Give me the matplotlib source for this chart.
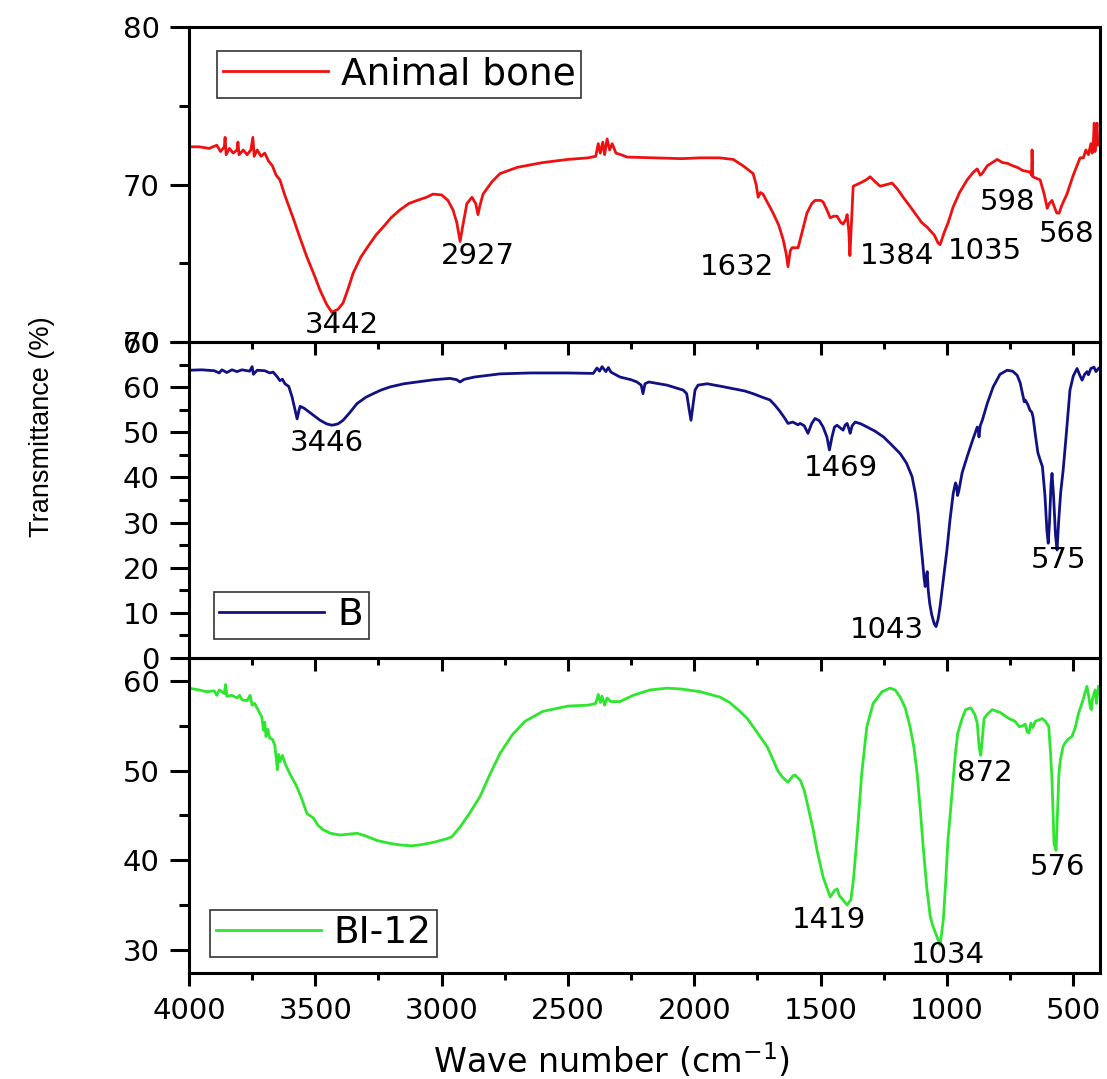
import matplotlib
matplotlib.use("Agg")
import matplotlib.pyplot as plt
import numpy as np
from matplotlib.ticker import MultipleLocator

plt.rcParams.update({
    "font.family": "DejaVu Sans",
    "font.size": 20,
    "axes.linewidth": 2.2,
})

# -------------------------------
# DATA
# -------------------------------
bone_wn = [4000, 3960, 3920, 3890, 3875, 3860, 3857, 3853, 3840, 3825, 3810, 3806, 3802, 3785,
           3770, 3755, 3747, 3742, 3730, 3715, 3700, 3685, 3670, 3655, 3640, 3620, 3588, 3560,
           3533, 3505, 3481, 3455, 3434, 3410, 3390, 3370, 3350, 3320, 3295, 3260, 3232, 3200,
           3165, 3130, 3097, 3060, 3034, 3000, 2975, 2955, 2940, 2927, 2915, 2900, 2880, 2865,
           2856, 2848, 2836, 2800, 2769, 2700, 2600, 2500, 2420, 2390, 2380, 2372, 2362, 2355,
           2345, 2335, 2325, 2310, 2290, 2266, 2150, 2050, 1977, 1900, 1846, 1807, 1767, 1755,
           1747, 1738, 1728, 1708, 1688, 1665, 1648, 1636, 1629, 1620, 1613, 1589, 1570, 1554,
           1535, 1522, 1500, 1490, 1475, 1462, 1448, 1435, 1420, 1411, 1400, 1395, 1388, 1384,
           1378, 1371, 1344, 1320, 1304, 1285, 1264, 1240, 1217, 1195, 1173, 1145, 1118, 1100,
           1078, 1050, 1035, 1027, 1010, 995, 975, 950, 920, 895, 880, 868, 861, 840, 801, 780,
           760, 740, 722, 700, 671, 665, 663, 660, 645, 631, 615, 603, 595, 584, 575, 565, 556,
           545, 525, 500, 473, 460, 450, 440, 430, 425, 420, 417, 414, 410, 406, 403, 400]
bone_t = [72.4, 72.4, 72.3, 72.5, 72.1, 72.4, 73.0, 71.9, 72.3, 72.0, 72.2, 72.7, 71.9, 72.2,
          71.9, 72.2, 73.0, 71.8, 72.2, 71.8, 72.0, 71.5, 71.2, 70.6, 70.3, 69.3, 67.9, 66.6,
          65.4, 64.3, 63.3, 62.4, 61.9, 62.1, 62.5, 63.4, 64.4, 65.4, 66.0, 66.8, 67.3, 67.9,
          68.4, 68.8, 69.0, 69.2, 69.4, 69.35, 69.0, 68.4, 67.6, 66.4, 67.5, 68.8, 69.2, 68.8,
          68.1, 68.7, 69.4, 70.2, 70.7, 71.1, 71.4, 71.6, 71.7, 71.8, 72.6, 72.0, 72.7, 71.9,
          72.9, 72.2, 72.6, 72.0, 71.9, 71.75, 71.7, 71.65, 71.7, 71.7, 71.6, 71.2, 70.7, 70.0,
          69.2, 69.5, 69.4, 68.8, 68.2, 67.4, 66.5, 65.6, 64.8, 65.8, 66.0, 66.0, 67.2, 68.2,
          68.8, 69.0, 69.0, 68.9, 68.4, 67.9, 68.0, 68.0, 67.6, 67.5, 67.8, 68.1, 67.0, 65.5,
          67.5, 69.9, 70.1, 70.3, 70.5, 70.2, 69.9, 70.0, 70.1, 69.7, 69.2, 68.6, 68.0, 67.6,
          67.3, 66.8, 66.3, 66.2, 67.0, 67.6, 68.6, 69.5, 70.3, 70.8, 71.0, 70.6, 70.7, 71.2,
          71.6, 71.4, 71.35, 71.2, 71.1, 70.9, 70.8, 70.6, 72.2, 70.5, 70.4, 70.3, 69.4, 68.5,
          68.8, 69.0, 68.6, 68.2, 68.2, 68.7, 69.4, 70.6, 71.7, 71.7, 72.2, 71.9, 72.6, 72.0,
          72.8, 73.9, 72.1, 72.8, 73.9, 72.5, 72.6]

b_wn = [4000, 3950, 3900, 3880, 3870, 3850, 3830, 3810, 3790, 3760, 3750, 3745, 3730, 3700,
        3680, 3667, 3650, 3640, 3630, 3620, 3605, 3592, 3580, 3572, 3565, 3560, 3545, 3533,
        3505, 3481, 3455, 3434, 3410, 3390, 3365, 3335, 3300, 3271, 3240, 3204, 3150, 3097,
        3030, 2967, 2940, 2927, 2910, 2870, 2800, 2769, 2650, 2500, 2400, 2385, 2375, 2365,
        2350, 2340, 2330, 2294, 2250, 2227, 2210, 2203, 2195, 2180, 2108, 2044, 2030, 2020,
        2013, 2005, 1997, 1985, 1949, 1900, 1846, 1800, 1767, 1730, 1700, 1680, 1660, 1640,
        1629, 1610, 1590, 1581, 1565, 1550, 1535, 1522, 1505, 1490, 1475, 1465, 1455, 1445,
        1435, 1422, 1411, 1403, 1395, 1388, 1383, 1375, 1363, 1340, 1316, 1285, 1251, 1220,
        1185, 1160, 1138, 1125, 1114, 1106, 1098, 1090, 1086, 1082, 1078, 1074, 1068, 1060,
        1050, 1043, 1035, 1027, 1015, 1000, 988, 975, 966, 962, 958, 953, 940, 920, 900, 880,
        876, 873, 868, 860, 840, 817, 790, 762, 740, 722, 710, 698, 694, 690, 680, 671, 664,
        659, 650, 640, 631, 622, 612, 604, 599, 594, 588, 584, 578, 570, 564, 558, 550, 540,
        530, 513, 500, 485, 475, 465, 455, 445, 440, 430, 418, 410, 400]
b_t = [63.8, 63.9, 63.7, 63.2, 63.9, 63.3, 63.9, 63.5, 63.9, 63.6, 64.6, 62.9, 63.8, 63.7,
       63.2, 63.4, 62.3, 61.5, 61.8, 60.8, 60.2, 57.9, 55.0, 53.0, 54.8, 55.8, 55.4, 54.9,
       53.7, 52.7, 51.9, 51.6, 51.9, 52.7, 54.3, 56.4, 57.8, 58.6, 59.4, 60.1, 60.8, 61.2,
       61.7, 62.0, 61.7, 61.2, 61.8, 62.3, 62.8, 63.0, 63.2, 63.2, 63.1, 64.3, 63.6, 64.6,
       63.5, 64.4, 63.4, 62.3, 61.7, 61.2, 60.5, 58.6, 60.8, 61.2, 60.5, 59.4, 58.6, 55.0,
       52.7, 56.0, 59.4, 60.5, 60.8, 60.3, 59.7, 59.2, 58.6, 57.8, 57.2, 56.0, 54.6, 53.0,
       52.0, 52.3, 51.7, 52.0, 51.5, 49.8, 52.0, 53.1, 52.6, 51.2, 49.0, 46.1, 49.0, 51.2,
       51.6, 51.0, 50.5, 51.6, 52.0, 50.8, 49.8, 51.5, 52.3, 51.9, 51.2, 50.3, 49.0, 47.3,
       45.3, 43.2, 40.2, 36.5, 32.0, 27.0, 22.4, 17.5, 15.8, 17.8, 19.1, 15.0, 12.0, 9.5,
       7.5, 6.9, 8.5, 11.4, 17.0, 23.9, 30.5, 36.5, 38.8, 38.2, 36.0, 37.0, 41.0, 44.6, 48.0,
       51.2, 50.5, 49.0, 51.5, 52.7, 56.5, 60.1, 62.9, 63.8, 63.6, 62.7, 61.0, 57.9, 56.8,
       57.2, 56.2, 54.9, 54.5, 53.4, 49.5, 45.5, 43.9, 42.4, 36.0, 28.0, 25.4, 30.0, 38.5,
       40.9, 36.0, 27.0, 23.9, 30.0, 36.5, 41.6, 48.0, 59.4, 62.5, 64.2, 62.8, 61.6, 62.9,
       63.5, 62.8, 64.2, 64.5, 63.5, 64.2]

bi_wn = [4000, 3960, 3930, 3900, 3890, 3880, 3860, 3855, 3850, 3830, 3810, 3800, 3790, 3770,
         3758, 3750, 3740, 3725, 3712, 3705, 3700, 3695, 3688, 3680, 3670, 3660, 3650, 3645,
         3640, 3630, 3620, 3600, 3573, 3553, 3533, 3507, 3490, 3469, 3440, 3402, 3370, 3335,
         3300, 3256, 3210, 3165, 3120, 3086, 3030, 2979, 2960, 2927, 2890, 2848, 2810, 2769,
         2720, 2670, 2600, 2500, 2420, 2390, 2380, 2372, 2365, 2355, 2345, 2330, 2294, 2242,
         2175, 2108, 2050, 1977, 1898, 1860, 1819, 1790, 1767, 1740, 1712, 1688, 1670, 1652,
         1629, 1610, 1601, 1580, 1565, 1550, 1530, 1514, 1490, 1462, 1445, 1435, 1425, 1415,
         1395, 1380, 1370, 1357, 1337, 1317, 1292, 1257, 1225, 1205, 1185, 1165, 1146, 1130,
         1118, 1105, 1094, 1080, 1066, 1055, 1040, 1027, 1014, 1005, 996, 986, 976, 966, 957,
         940, 926, 906, 890, 880, 872, 866, 860, 853, 840, 821, 790, 754, 730, 714, 700, 690,
         682, 675, 668, 660, 650, 623, 610, 597, 590, 584, 576, 568, 562, 557, 551, 540, 532,
         520, 505, 492, 479, 460, 446, 440, 432, 428, 424, 420, 413, 408, 400]
bi_t = [59.2, 59.0, 58.8, 58.9, 58.4, 59.0, 58.6, 59.6, 58.3, 58.4, 58.1, 58.4, 57.9, 57.8,
        58.4, 57.3, 57.5, 56.7, 56.0, 54.5, 55.4, 53.8, 54.6, 53.6, 53.5, 52.8, 50.1, 51.8,
        51.0, 51.7, 50.8, 49.6, 48.2, 46.8, 45.2, 44.7, 43.9, 43.4, 43.0, 42.8, 42.9, 43.0,
        42.7, 42.2, 41.9, 41.7, 41.6, 41.7, 42.0, 42.4, 42.6, 43.7, 45.2, 47.1, 49.5, 51.9,
        54.0, 55.5, 56.6, 57.2, 57.3, 57.5, 58.5, 57.6, 58.3, 57.3, 58.1, 57.7, 57.7, 58.4,
        59.0, 59.2, 59.1, 58.8, 58.2, 57.6, 56.6, 55.8, 54.9, 53.8, 52.7, 51.2, 50.0, 49.3,
        48.7, 49.4, 49.5, 48.9, 47.8, 46.0, 43.5, 41.1, 38.1, 35.9, 36.6, 36.8, 36.0, 35.7,
        35.0, 35.6, 37.8, 42.2, 49.7, 54.9, 57.5, 58.8, 59.2, 59.0, 58.2, 57.0, 54.9, 52.5,
        49.7, 45.5, 41.5, 37.0, 33.7, 32.6, 31.5, 30.5, 33.4, 37.5, 42.2, 45.5, 48.9, 52.0,
        54.2, 55.8, 56.8, 57.0, 56.3, 55.3, 52.5, 51.7, 53.5, 55.8, 56.3, 56.8, 56.5, 55.8,
        55.5, 54.9, 55.0, 55.2, 54.3, 54.2, 55.3, 54.8, 55.5, 55.8, 55.5, 54.9, 52.0, 48.9,
        41.8, 41.1, 45.5, 49.5, 51.2, 52.7, 53.1, 53.5, 53.8, 54.8, 56.4, 58.0, 59.4, 58.5,
        57.0, 56.8, 58.0, 58.4, 59.0, 57.5, 59.4]

# peak labels: text, x, y
bone_labels = [("3442", 3394, 61.1), ("2927", 2856, 65.5), ("1632", 1830, 64.8),
               ("1384", 1197, 65.5), ("1035", 849, 65.8), ("598", 758, 68.9), ("568", 525, 66.9)]
b_labels = [("3446", 3454, 47.6), ("1469", 1420, 42.1), ("1043", 1237, 6.2), ("575", 560, 21.7)]
bi_labels = [("1419", 1468, 33.3), ("1034", 996, 29.4), ("872", 849, 49.7), ("576", 564, 39.2)]

# -------------------------------
# FIGURE
# -------------------------------
fig, axes = plt.subplots(3, 1, sharex=True, figsize=(11.07, 10.79), dpi=100,
                         gridspec_kw={"hspace": 0})
fig.subplots_adjust(left=0.1707, right=0.9937, top=0.975, bottom=0.0982)

panels = [
    (bone_wn, bone_t, "#ee1111", "Animal bone", bone_labels, (60, 80),
     "upper left", (0.031, 0.924)),
    (b_wn, b_t, "#111184", "B", b_labels, (0, 70),
     "lower left", (0.027, 0.060)),
    (bi_wn, bi_t, "#2ee62e", "BI-12", bi_labels, (27.4, 62.6),
     "lower left", (0.023, 0.051)),
]

for ax, (wn, t, col, name, labels, ylim, loc, anchor) in zip(axes, panels):
    ax.set_facecolor("none")
    ax.plot(wn, t, color=col, lw=2.0, label=name)
    ax.set_ylim(*ylim)
    ax.yaxis.set_major_locator(MultipleLocator(10))
    ax.yaxis.set_minor_locator(MultipleLocator(5))
    ax.xaxis.set_major_locator(MultipleLocator(500))
    ax.xaxis.set_minor_locator(MultipleLocator(250))
    ax.tick_params(axis="y", which="major", direction="out", length=14, width=2.2,
                   labelsize=21, pad=7)
    ax.tick_params(axis="y", which="minor", direction="out", length=7, width=2.2)
    ax.tick_params(axis="x", which="major", direction="out", length=9, width=2.2,
                   labelsize=21, pad=8)
    ax.tick_params(axis="x", which="minor", direction="out", length=5, width=2.2)
    ax.tick_params(top=False, right=False, which="both")
    for txt, x, y in labels:
        ax.text(x, y, txt, ha="center", va="center", fontsize=21)
    leg = ax.legend(loc=loc, bbox_to_anchor=anchor, borderaxespad=0, fontsize=27,
                    handlelength=2.8, handletextpad=0.35, borderpad=0.15,
                    fancybox=False, framealpha=1, edgecolor="#333333")
    leg.get_frame().set_linewidth(1.2)
    for line in leg.get_lines():
        line.set_linewidth(2.0)

axes[0].set_xlim(4000, 394)

axes[2].set_xlabel("Wave number (cm$^{-1}$)", fontsize=24)
axes[2].xaxis.set_label_coords(0.464, -0.215)

axes[1].set_ylabel("Transmittance (%)", fontsize=19.5, family="Liberation Sans")
axes[1].yaxis.set_label_coords(-0.147, 0.734)

plt.savefig("out.png", dpi=100)
